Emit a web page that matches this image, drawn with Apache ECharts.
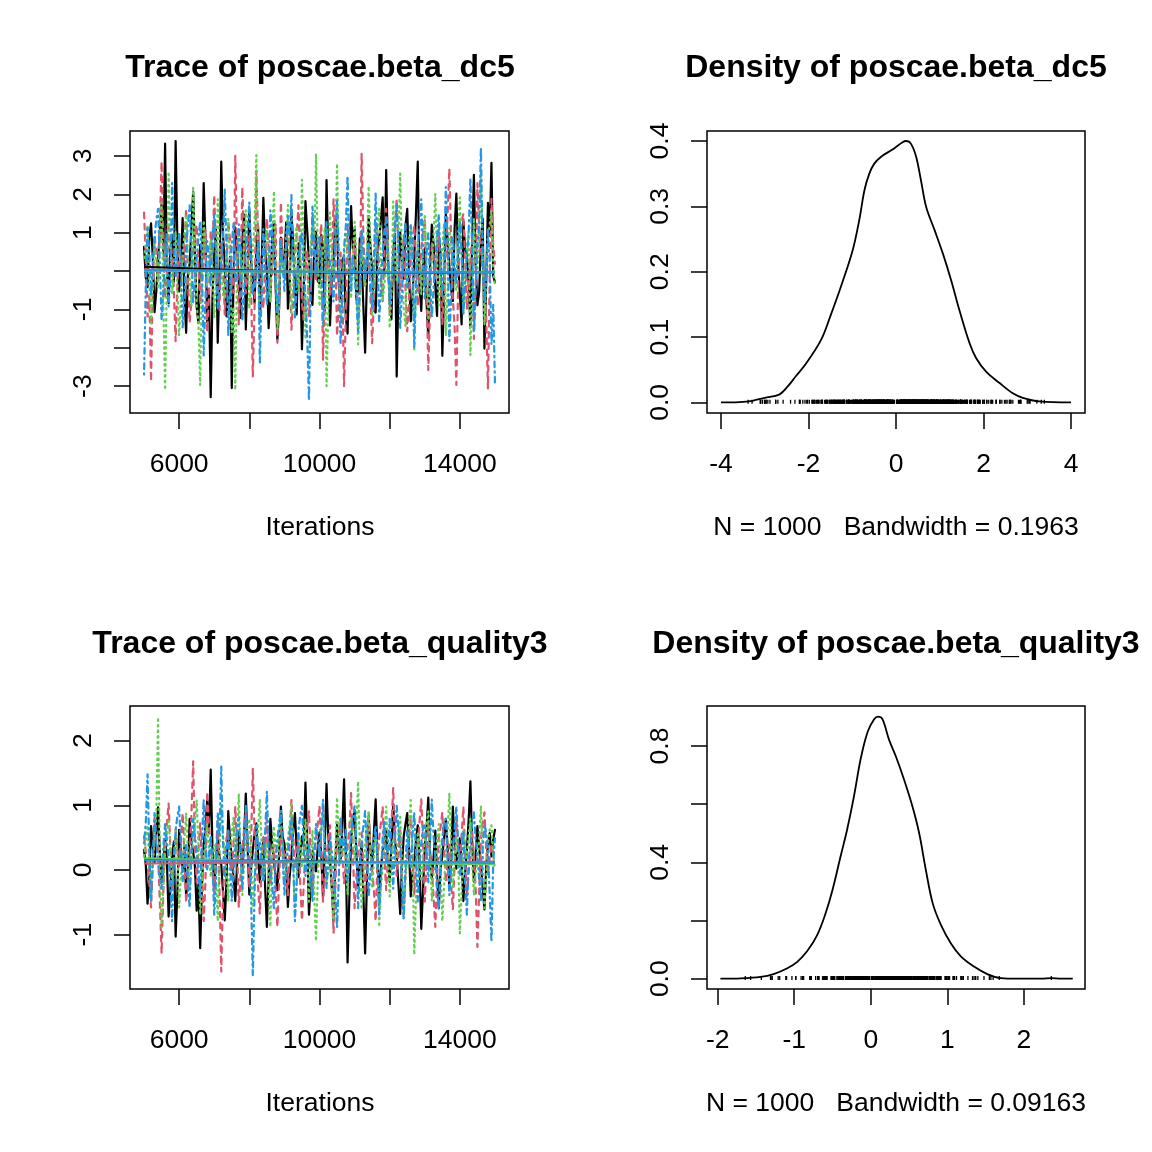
<!DOCTYPE html>
<html>
<head>
<meta charset="utf-8">
<script src="https://cdn.jsdelivr.net/npm/echarts@6/dist/echarts.min.js"></script>
<style>
  html, body {margin:0; padding:0; background:#fff;}
  #main {width:1152px; height:1152px;}
</style>
</head>
<body>
<div id="main"></div>
<script>
  // iterations 5000..15000, one value per 50 iterations and chain
  var iterStart = 5000;
  var iterStep = 50;
  var chainColors = ['#000000', '#DF536B', '#61D04F', '#2297E6'];
  var chainDash = ['solid', [5.6, 5.6], [1.4, 4.2], [1.4, 4.2, 5.6, 4.2]];
  var font = "'Liberation Sans', Arial, Helvetica, sans-serif";

  // poscae.beta_dc5
  var dc5Chain1 = [0.63,-0.17,-0.42,0.88,1.24,0.35,-1.07,-0.52,0.31,1.02,1.73,0.46,3.32,0.12,-0.84,0.57,0.93,-0.28,3.39,0.74,
    -0.53,0.21,1.38,-0.66,-1.61,-0.09,0.19,1.12,2.07,0.43,-0.94,-1.36,0.68,0.05,2.29,0.81,-1.33,-0.47,-3.29,-0.71,
    0.42,1.08,-1.87,-0.23,2.85,0.96,0.14,-1.18,-0.72,0.37,-3.05,-0.14,1.13,0.66,-0.31,-1.22,0.79,1.47,-1.52,-0.06,
    1.58,0.27,-0.19,-0.83,0.54,1.16,-1.24,0.02,1.91,0.61,0.03,-1.49,-0.63,0.84,1.29,-0.38,-1.79,-0.93,0.87,0.18,
    0.32,1.27,-0.98,-0.44,1.52,0.73,-0.41,-1.13,0.72,0.09,-2.04,-0.57,1.82,1.04,0.24,-0.67,-0.88,0.51,1.03,-0.26,
    -0.32,0.94,0.62,-1.09,2.37,0.48,-1.42,-0.16,0.11,1.41,1.19,-0.35,-0.79,0.29,0.38,-1.21,-1.63,0.15,1.69,0.58,
    1.09,-0.74,-0.51,0.86,0.28,-0.92,-2.13,-0.22,1.43,0.64,0.01,-1.02,-1.08,0.47,0.81,1.33,1.92,-0.13,2.63,0.39,
    -0.71,-1.26,0.52,0.97,-2.75,-0.45,1.01,0.33,-0.21,1.18,1.62,-0.04,-1.31,-0.68,0.34,1.54,2.85,-0.36,-1.04,0.23,
    0.59,-0.82,-1.71,0.08,1.21,0.71,-0.43,-1.17,0.91,0.44,-2.21,-0.62,1.49,0.83,0.13,-0.46,-0.78,1.11,2.02,0.25,
    -0.61,-1.39,1.28,0.56,0.41,-0.29,-1.44,0.69,2.51,0.17,-0.89,-0.54,0.74,1.36,-2.02,-0.33,1.78,0.92,2.82,-0.12,
    -0.29];
  var dc5Chain2 = [1.52,0.37,-1.18,-0.64,-2.88,-0.26,0.93,0.48,-0.27,1.16,2.85,0.62,-0.71,-0.08,1.14,0.79,0.42,-0.53,-1.83,-0.41,
    0.81,0.28,-0.13,0.67,1.63,-0.22,-1.34,-0.78,0.52,0.99,1.21,0.14,-0.88,-0.35,0.23,1.07,-1.58,-0.69,1.04,0.46,
    1.98,0.55,-0.49,-1.02,0.72,0.26,-1.13,0.12,1.31,0.83,0.07,-0.57,3.0,0.61,-1.41,-0.23,2.18,0.71,-0.58,0.04,
    0.91,-0.36,-2.75,-0.92,2.61,0.87,0.32,-0.48,-0.97,0.18,1.37,0.58,-0.43,-0.11,0.63,1.24,-1.87,-0.61,1.79,0.32,
    -0.18,0.69,1.12,0.09,-1.53,-0.74,0.41,0.93,1.71,0.44,-0.83,-1.27,0.02,0.54,-1.19,-0.47,1.48,0.86,-0.27,0.15,
    0.68,1.23,-2.31,-0.68,1.01,0.36,-0.62,-0.12,1.87,0.77,-1.69,-0.81,0.48,-0.39,-3.0,-1.12,1.22,0.53,-0.09,0.38,
    0.82,-0.27,-1.32,-0.58,3.06,0.94,-0.38,0.21,0.59,-0.63,-1.88,-0.76,1.27,0.66,0.19,-0.31,-0.79,0.47,1.62,0.73,
    -1.08,-0.42,0.43,1.14,1.88,0.31,-0.52,0.16,0.89,-0.44,-1.57,-0.86,0.31,0.74,1.19,0.28,-0.91,-0.17,0.58,1.02,
    1.39,-0.33,-2.58,-0.94,0.77,0.39,-0.19,0.51,1.09,-0.21,-1.38,-0.66,0.47,1.46,2.67,0.82,-0.72,-1.46,-2.97,-0.39,
    0.88,1.31,1.49,0.27,-0.98,-0.36,0.29,0.84,-1.77,-0.52,2.29,1.06,0.57,-0.08,-0.42,-1.23,-3.06,-0.18,1.88,0.66,
    0.19];
  var dc5Chain3 = [0.34,0.71,1.18,-0.27,-1.42,-0.38,0.73,0.16,-0.47,0.92,1.79,-0.84,-3.1,-0.29,2.59,0.63,-0.58,0.21,1.03,-0.46,
    -1.68,-0.72,0.44,0.96,1.47,0.38,-0.19,-0.91,2.17,0.55,-0.88,-1.34,-2.97,0.27,1.32,0.61,-0.37,-0.04,0.79,0.24,
    -1.21,-0.33,1.87,0.49,0.13,-0.62,-0.71,0.58,1.36,0.17,-1.59,-0.94,-3.1,0.11,0.93,0.36,-0.28,0.84,1.58,0.42,
    -0.98,-0.21,0.52,1.29,3.02,0.23,-1.27,-0.66,0.22,0.74,1.08,-0.14,-0.82,0.67,2.08,0.31,-1.52,-0.97,0.63,0.09,
    0.02,0.86,1.72,0.28,-1.08,-0.53,0.82,1.17,-0.52,0.04,2.38,0.57,-1.78,-0.87,0.29,0.72,1.23,0.39,3.06,0.61,
    -0.92,-0.23,0.58,1.14,-3.0,-1.07,1.52,0.48,-0.21,0.66,2.8,0.19,-1.37,-0.56,0.41,1.02,0.98,-0.09,-0.71,0.33,
    1.28,0.46,-1.91,-0.73,0.69,0.08,-0.42,0.57,2.21,0.78,-1.18,-0.49,0.51,1.09,1.62,0.12,-0.79,-0.34,0.12,0.83,
    -1.49,-0.61,1.81,0.37,-0.29,0.94,2.54,0.26,-0.98,-1.44,0.42,0.79,1.19,-0.18,-2.08,-0.59,0.81,0.14,-0.61,0.49,
    1.48,0.22,-1.29,-0.37,0.23,0.91,2.01,0.34,-0.89,-0.17,0.61,1.24,-1.69,-0.48,1.12,0.53,0.31,-0.22,-0.52,0.86,
    1.92,0.39,-1.09,-0.14,0.68,1.07,-2.19,-0.63,1.38,0.18,0.03,0.92,2.6,0.47,-1.41,-0.29,0.87,1.21,1.57,0.11,
    -0.38];
  var dc5Chain4 = [-2.7,-0.41,1.13,0.52,-0.63,0.27,0.88,1.34,1.62,0.19,-1.28,-0.57,0.43,0.96,-0.92,-0.14,2.29,0.68,-0.18,0.47,
    1.02,0.21,-1.47,-0.83,0.63,1.19,1.71,0.54,-0.81,-0.26,0.32,0.87,1.29,0.11,-2.2,-0.72,0.78,0.36,-0.39,0.93,
    1.48,0.28,-0.97,-0.44,0.18,0.82,2.12,0.64,-1.69,-0.58,0.71,1.26,-0.31,-0.07,1.22,0.46,-1.29,-0.62,0.52,1.11,
    1.79,0.38,-0.61,-0.19,0.13,0.76,-2.41,-0.47,1.09,0.23,-0.88,-0.33,1.58,0.94,0.42,-0.28,-1.08,-0.51,0.79,0.14,
    -0.52,0.66,1.43,0.92,1.98,0.34,-1.21,-0.38,0.29,0.71,1.01,-0.12,-0.69,-1.74,-3.38,-0.43,1.68,0.57,-0.11,0.81,
    0.88,0.12,-1.38,-0.49,1.31,0.61,0.21,-0.42,-0.79,0.96,1.82,0.33,-1.92,-0.67,0.61,1.17,2.48,0.24,-0.52,0.39,
    0.41,-0.71,-1.58,-0.29,1.08,0.51,-0.21,0.44,0.72,-0.36,-0.98,0.26,2.02,0.58,-1.31,-0.44,0.49,1.07,1.38,0.17,
    -0.91,-0.18,0.23,1.16,1.71,0.62,-1.48,-0.59,0.81,1.23,-0.42,-0.06,1.19,0.84,-1.98,-0.31,0.62,1.14,1.87,0.29,
    -0.71,0.43,0.98,-0.26,-1.19,-0.48,0.31,0.86,1.48,0.22,-0.62,0.37,2.19,0.73,-1.82,-0.69,0.92,0.18,-0.32,0.64,
    1.29,0.47,-1.12,-0.34,0.41,0.98,2.42,0.56,-1.61,-0.39,0.68,1.24,3.22,0.48,-0.81,-0.17,1.08,0.21,-1.91,-0.88,
    -2.93];

  // poscae.beta_quality3
  var q3Chain1 = [0.31,0.08,-0.52,-0.14,0.68,0.37,0.12,0.54,0.97,0.26,-0.19,0.03,0.48,0.17,-0.72,-0.31,0.21,0.44,-1.03,-0.36,
    0.62,0.29,0.01,0.36,-0.41,-0.07,0.79,0.42,0.28,0.06,-0.63,-0.22,-1.21,-0.27,0.38,0.67,1.08,0.58,1.55,0.33,
    -0.29,0.14,0.52,0.21,0.09,-0.33,-0.78,-0.18,0.91,0.47,0.18,-0.12,-0.48,0.07,0.59,0.32,0.02,0.49,1.18,0.39,
    -0.38,0.02,0.31,0.56,0.72,0.23,-0.19,0.18,0.47,-0.26,-0.88,-0.14,0.79,0.41,0.11,-0.08,-0.31,0.27,0.98,0.51,
    0.41,0.06,-0.57,-0.09,0.19,0.62,0.88,0.31,-0.11,0.23,0.52,0.37,1.35,0.44,-0.69,-0.21,0.29,0.13,-0.02,0.34,
    0.58,0.24,-0.42,0.36,1.33,0.52,0.17,-0.27,-0.79,0.08,0.71,0.38,0.12,0.64,1.4,0.21,-1.43,-0.44,0.49,0.73,
    0.92,0.27,-0.28,0.09,0.41,-0.37,-1.29,-0.22,0.81,0.34,0.02,0.58,1.09,0.26,-0.49,0.03,0.29,0.43,0.61,0.18,
    -0.18,0.39,1.02,0.47,0.19,-0.23,-0.68,0.06,0.52,0.71,0.88,0.33,-0.41,-0.04,0.12,0.46,0.69,0.14,-0.91,-0.32,
    0.38,0.64,1.12,0.28,-0.13,0.19,0.61,-0.08,-0.59,0.03,0.22,0.49,0.79,0.36,-0.29,0.11,0.98,0.42,0.02,0.31,
    0.49,0.12,-0.48,-0.06,0.31,0.77,1.37,0.41,-0.18,0.26,0.68,0.33,0.09,-0.27,-0.61,0.04,0.39,0.57,0.21,0.47,
    0.62];
  var q3Chain2 = [0.52,0.28,0.09,-0.21,-0.58,0.13,0.81,0.44,0.22,-0.47,-1.29,-0.32,0.38,0.71,1.03,0.36,-0.31,0.17,0.63,0.29,
    0.02,0.47,0.88,0.23,-0.51,-0.08,0.29,0.86,1.68,0.42,-0.19,0.31,0.72,0.09,-0.79,-0.18,1.21,0.68,0.39,-0.02,
    -0.38,0.27,0.79,-0.29,-1.57,-0.41,0.21,0.49,0.61,0.18,-0.12,0.41,0.98,0.34,-0.58,-0.09,0.31,0.62,0.89,0.37,
    -0.28,0.44,1.57,0.56,0.11,-0.26,-0.68,0.07,0.51,0.24,0.79,0.32,-0.21,0.16,0.38,-0.33,-0.88,-0.14,0.69,0.43,
    0.19,-0.07,-0.39,0.41,1.08,0.53,0.03,0.27,0.59,-0.19,-0.78,-0.24,0.32,0.66,0.91,0.18,-0.29,0.22,0.48,0.71,
    0.99,0.34,-0.49,-0.11,0.21,0.48,0.69,-0.14,-0.98,-0.28,0.42,0.57,0.79,0.26,-0.21,0.08,0.11,0.63,1.19,0.36,
    -0.59,-0.13,0.31,0.47,0.58,0.09,-0.38,0.24,0.88,0.36,0.01,-0.31,-0.79,0.12,0.49,0.73,0.98,0.21,-0.31,0.18,
    0.41,0.67,1.27,0.39,-0.09,0.26,0.61,-0.16,-0.69,-0.04,0.21,0.52,0.81,0.29,-0.38,0.07,0.31,0.74,1.09,0.43,
    -0.49,0.14,0.71,0.28,0.02,-0.41,-0.88,-0.12,0.52,0.66,0.89,0.31,-0.19,0.18,0.39,-0.22,-0.61,0.09,0.79,0.46,
    0.12,0.53,0.98,0.27,-0.41,-0.03,0.29,0.61,0.58,-0.28,-1.19,-0.36,0.48,0.72,0.89,0.33,-0.08,0.19,0.41,0.24,
    0.21];
  var q3Chain3 = [0.21,0.46,0.69,0.12,-0.38,0.07,0.52,0.83,2.36,0.18,-0.89,-0.27,0.31,0.56,0.79,0.34,-0.19,0.14,0.61,0.27,
    -0.58,-0.09,0.11,0.48,0.88,0.23,-0.29,0.19,0.49,0.76,1.08,0.38,-0.69,-0.21,0.22,0.41,0.71,0.28,-0.11,0.31,
    0.38,-0.14,-0.79,0.26,0.99,0.53,0.29,-0.06,-0.48,0.17,0.58,0.81,0.02,0.47,1.18,0.22,-0.39,0.11,0.51,0.69,
    0.79,0.24,-0.58,-0.08,0.19,0.64,1.09,0.39,-0.18,0.13,0.42,-0.31,-0.88,0.21,0.68,0.33,0.12,0.57,0.91,0.08,
    -0.29,0.26,0.48,0.72,1.01,0.17,-0.68,-0.13,0.31,0.49,0.03,0.36,0.79,0.22,-0.49,0.09,0.61,-0.38,-1.1,-0.17,
    0.39,0.62,0.91,0.28,-0.19,0.06,0.29,-0.33,-0.78,0.24,1.12,0.47,0.09,0.36,0.52,0.13,-0.38,0.27,0.81,0.42,
    0.18,0.71,1.37,0.29,-0.61,-0.12,0.41,0.66,0.89,0.21,-0.28,0.14,0.59,0.37,-0.88,-0.23,0.02,0.53,0.98,0.31,
    -0.41,0.16,0.49,0.07,0.21,0.58,0.82,0.11,-0.69,-0.19,0.31,0.72,1.08,0.27,-1.31,-0.42,0.59,0.34,-0.18,0.23,
    0.42,0.68,0.91,0.19,-0.48,-0.06,0.11,0.44,0.71,0.03,-0.79,-0.26,0.29,0.61,1.19,0.38,-0.29,0.16,0.51,0.22,
    -0.98,-0.31,0.61,0.36,0.19,0.54,0.79,0.12,-0.39,-0.04,0.11,0.48,0.99,0.28,-0.59,-0.14,0.41,0.63,0.69,0.24,
    0.01];
  var q3Chain4 = [0.41,0.73,1.48,0.32,-0.49,0.18,0.88,0.42,0.09,-0.12,-0.29,0.36,0.71,0.47,0.19,-0.24,-0.79,0.07,0.61,0.83,
    0.98,0.37,-0.18,0.14,0.39,-0.21,-0.58,0.26,0.79,0.52,0.31,-0.07,-0.41,0.48,1.09,0.43,0.01,0.22,0.51,0.11,
    -0.69,-0.16,0.89,0.51,1.6,0.44,-0.09,0.27,0.61,0.14,-0.48,-0.02,0.29,0.66,0.81,0.23,-0.31,0.38,0.99,0.47,
    0.21,-0.44,-1.64,-0.36,0.69,0.31,0.42,0.08,-0.19,0.57,1.21,0.34,0.02,-0.23,-0.59,0.16,0.49,0.72,0.91,0.28,
    -0.38,0.06,0.31,0.59,0.79,0.17,-0.79,-0.21,0.61,0.84,0.99,0.33,-0.09,0.19,0.41,-0.17,-0.49,0.24,0.71,0.46,
    0.19,0.58,1.09,0.37,-0.28,0.12,0.51,0.29,0.02,-0.36,-0.89,-0.13,0.79,0.44,0.31,0.62,-0.19,0.09,0.59,0.81,
    0.99,0.41,-0.59,0.03,0.39,0.68,0.91,0.26,-0.41,-0.04,0.21,0.47,0.69,0.12,-0.69,-0.18,0.49,0.77,0.11,0.36,
    0.79,0.22,-0.29,0.48,0.99,0.61,0.31,-0.26,-0.78,0.09,0.61,0.38,0.01,0.53,0.89,0.24,-0.49,0.07,0.41,0.66,
    0.71,0.29,-0.19,0.43,1.09,0.52,0.21,-0.31,-0.61,0.14,0.51,0.73,0.79,0.18,-0.39,0.06,0.29,0.64,0.98,0.39,
    -0.09,0.27,0.61,-0.18,-0.69,0.13,0.41,0.72,0.89,0.46,0.21,-0.14,-0.49,0.33,0.71,0.58,0.31,-0.37,-1.11,0.12,
    0.49];

  // lowess lines per chain
  var smoothIters = [5000, 7500, 10000, 12500, 15000];
  var dc5Smooth = [[0.11, 0.03, -0.03, -0.05, -0.03],
                   [0.04, 0.01, -0.02, -0.04, -0.04],
                   [0.01, -0.01, -0.02, -0.03, -0.03],
                   [0.02, 0.00, -0.02, -0.03, -0.02]];
  var q3Smooth = [[0.17, 0.15, 0.13, 0.11, 0.10],
                  [0.10, 0.11, 0.12, 0.12, 0.13],
                  [0.18, 0.15, 0.12, 0.10, 0.09],
                  [0.15, 0.14, 0.13, 0.12, 0.11]];

  // density curves
  var dc5DensX = [-4.0,-3.58,-3.28,-3.0,-2.67,-2.48,-2.29,-2.06,-1.71,-1.49,-1.26,-0.99,-0.84,-0.72,-0.61,-0.50,-0.34,-0.08,0.15,0.23,0.34,0.46,0.57,0.69,0.88,1.07,1.26,1.45,1.68,1.83,2.06,2.36,2.67,2.90,3.28,4.0];
  var dc5DensY = [0,0.0005,0.0025,0.007,0.012,0.024,0.040,0.059,0.096,0.134,0.177,0.233,0.279,0.325,0.350,0.365,0.376,0.387,0.398,0.400,0.396,0.376,0.340,0.299,0.264,0.228,0.187,0.141,0.091,0.068,0.047,0.030,0.014,0.007,0.0015,0];
  var q3DensX = [-1.965,-1.70,-1.44,-1.27,-1.09,-0.96,-0.83,-0.70,-0.59,-0.50,-0.39,-0.31,-0.22,-0.13,-0.04,0.044,0.096,0.153,0.24,0.33,0.437,0.546,0.633,0.72,0.81,0.917,1.048,1.18,1.354,1.53,1.70,1.92,2.23,2.36,2.49,2.64];
  var q3DensY = [0,0.001,0.006,0.016,0.036,0.058,0.095,0.150,0.225,0.305,0.425,0.511,0.626,0.758,0.849,0.892,0.901,0.892,0.821,0.763,0.683,0.591,0.50,0.374,0.259,0.185,0.121,0.076,0.041,0.015,0.002,0,0,0.002,0,0];

  // ticks and labels
  var traceXTicks = [6000, 8000, 10000, 12000, 14000];
  var traceXLabels = [6000, 10000, 14000];
  var dc5YTicks = [-3, -2, -1, 0, 1, 2, 3];
  var dc5YLabels = [-3, -1, 1, 2, 3];
  var q3YTicks = [-1, 0, 1, 2];
  var dc5DensXTicks = [-4, -2, 0, 2, 4];
  var dc5DensYTicks = [0, 0.1, 0.2, 0.3, 0.4];
  var q3DensXTicks = [-2, -1, 0, 1, 2];
  var q3DensYTicks = [0, 0.2, 0.4, 0.6, 0.8];
  var q3DensYLabels = [0, 0.4, 0.8];

  function chainPairs(vals){
    var out = [];
    for(var i=0;i<vals.length;i++){
      out.push([iterStart + i*iterStep, vals[i]]);
    }
    return out;
  }

  function zipPairs(xs, ys){
    var out = [];
    for(var i=0;i<xs.length;i++){
      out.push([xs[i], ys[i]]);
    }
    return out;
  }

  function makeAxis(gi, min, max, ticks, labels, isY, digits){
    return {
      type: 'value', gridIndex: gi, min: min, max: max,
      axisLine: {show: false, onZero: false},
      splitLine: {show: false},
      axisTick: {show: true, inside: false, length: 16, customValues: ticks, lineStyle: {color: '#000', width: 1.5}},
      axisLabel: {
        show: true, customValues: labels, rotate: isY ? 90 : 0, margin: isY ? 33 : 38,
        color: '#000', fontSize: 26.5, fontFamily: font,
        formatter: function(v){ return digits ? Number(v).toFixed(digits) : String(v); }
      }
    };
  }

  function traceSeries(gi, chains, smooth){
    var list = [];
    chains.forEach(function(vals, k){
      list.push({
        type: 'line', xAxisIndex: gi, yAxisIndex: gi, data: chainPairs(vals),
        showSymbol: false, symbol: 'none', silent: true,
        lineStyle: {color: chainColors[k], width: 2.2, type: chainDash[k], cap: 'round', join: 'round'}
      });
    });
    smooth.forEach(function(vals, k){
      list.push({
        type: 'line', xAxisIndex: gi, yAxisIndex: gi, data: zipPairs(smoothIters, vals),
        showSymbol: false, symbol: 'none', silent: true, smooth: true,
        lineStyle: {color: chainColors[k], width: 2}
      });
    });
    return list;
  }

  function densitySeries(gi, xs, ys, chains){
    var ymax = Math.max.apply(null, ys);
    var rug = [];
    chains.forEach(function(vals){
      vals.forEach(function(v){ rug.push([v]); });
    });
    return [{
      type: 'line', xAxisIndex: gi, yAxisIndex: gi, data: zipPairs(xs, ys),
      showSymbol: false, symbol: 'none', silent: true, smooth: 0.35,
      lineStyle: {color: '#000', width: 1.8}
    },{
      type: 'custom', xAxisIndex: gi, yAxisIndex: gi, data: rug, silent: true,
      renderItem: function(params, api){
        var p0 = api.coord([api.value(0), -ymax/200]);
        var p1 = api.coord([api.value(0), ymax/100]);
        return {type: 'line', shape: {x1: p0[0], y1: p0[1], x2: p1[0], y2: p1[1]},
                style: {stroke: '#000', lineWidth: 1.3}};
      }
    }];
  }

  var dc5Chains = [dc5Chain1, dc5Chain2, dc5Chain3, dc5Chain4];
  var q3Chains = [q3Chain1, q3Chain2, q3Chain3, q3Chain4];

  function label(text, x, y, size, bold){
    return {type: 'text', x: x, y: y, silent: true,
      style: {text: text, fill: '#000', align: 'center', verticalAlign: 'middle',
              font: (bold ? 'bold ' : '') + size + 'px ' + font}};
  }

  var gridBox = {show: true, borderColor: '#000', borderWidth: 1.5, backgroundColor: 'transparent', containLabel: false};

  var option = {
    animation: false,
    backgroundColor: '#fff',
    grid: [
      Object.assign({left: 130, top: 131, width: 379, height: 282}, gridBox),
      Object.assign({left: 707, top: 131, width: 378, height: 282}, gridBox),
      Object.assign({left: 130, top: 706, width: 379, height: 283}, gridBox),
      Object.assign({left: 707, top: 706, width: 378, height: 283}, gridBox)
    ],
    xAxis: [
      makeAxis(0, 4600, 15400, traceXTicks, traceXLabels, false, 0),
      makeAxis(1, -4.32, 4.32, dc5DensXTicks, dc5DensXTicks, false, 0),
      makeAxis(2, 4600, 15400, traceXTicks, traceXLabels, false, 0),
      makeAxis(3, -2.14, 2.80, q3DensXTicks, q3DensXTicks, false, 0)
    ],
    yAxis: [
      makeAxis(0, -3.7, 3.65, dc5YTicks, dc5YLabels, true, 0),
      makeAxis(1, -0.0162, 0.4153, dc5DensYTicks, dc5DensYTicks, true, 1),
      makeAxis(2, -1.84, 2.535, q3YTicks, q3YTicks, true, 0),
      makeAxis(3, -0.0354, 0.9375, q3DensYTicks, q3DensYLabels, true, 1)
    ],
    graphic: [
      label('Trace of poscae.beta_dc5', 320, 68, 32, true),
      label('Density of poscae.beta_dc5', 896, 68, 32, true),
      label('Trace of poscae.beta_quality3', 320, 644, 32, true),
      label('Density of poscae.beta_quality3', 896, 644, 32, true),
      label('Iterations', 320, 528, 26.5, false),
      label('N = 1000   Bandwidth = 0.1963', 896, 528, 26.5, false),
      label('Iterations', 320, 1104, 26.5, false),
      label('N = 1000   Bandwidth = 0.09163', 896, 1104, 26.5, false)
    ],
    series: [].concat(
      traceSeries(0, dc5Chains, dc5Smooth),
      densitySeries(1, dc5DensX, dc5DensY, dc5Chains),
      traceSeries(2, q3Chains, q3Smooth),
      densitySeries(3, q3DensX, q3DensY, q3Chains)
    )
  };

  var myChart = echarts.init(document.getElementById('main'));
  option && myChart.setOption(option);
</script>
</body>
</html>
